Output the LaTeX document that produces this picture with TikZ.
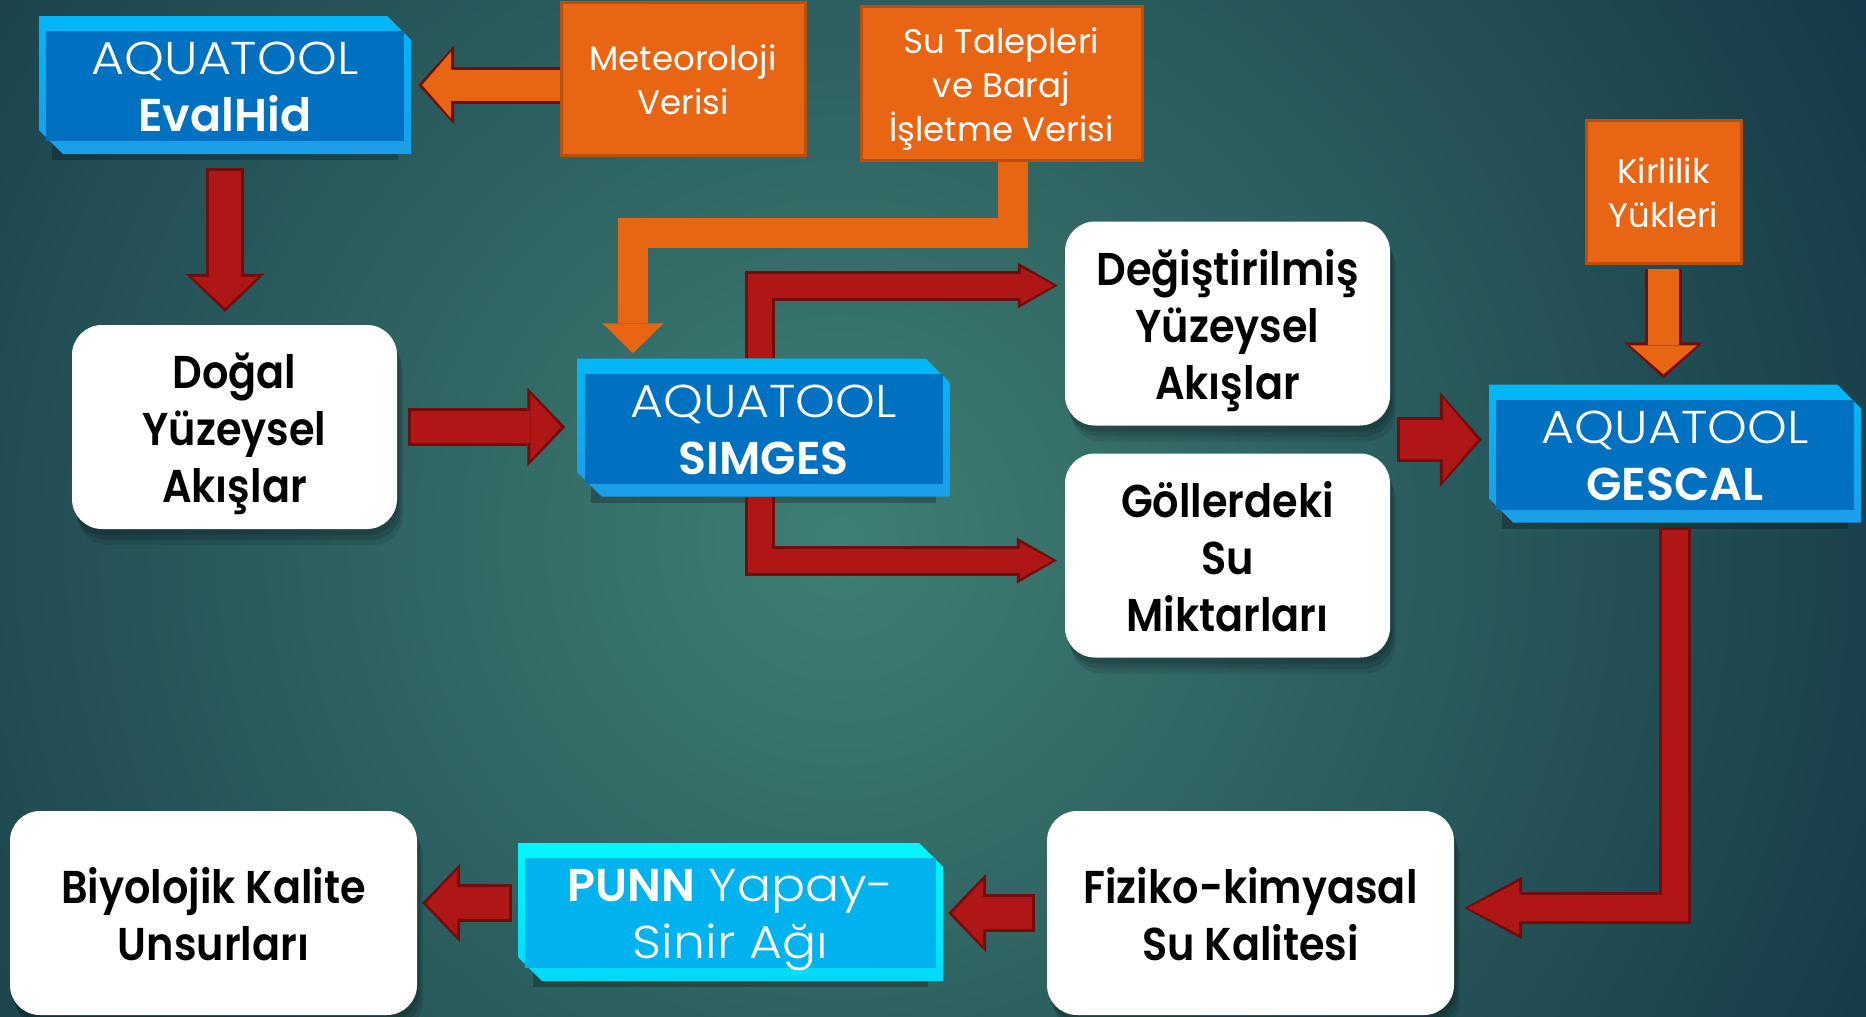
\documentclass[tikz,border=0pt]{standalone}
\usepackage{fontspec}
\setmainfont{Poppins}[BoldFont={Poppins SemiBold}]
\newfontfamily\thinfont{Poppins Light}[FakeStretch=1.1]
\newfontfamily\cardfont{Poppins SemiBold}[FakeStretch=0.9]
\usetikzlibrary{arrows.meta, calc, shadows}

\definecolor{bgin}{HTML}{3F7F74}
\definecolor{bgout}{HTML}{163A47}
\definecolor{flowred}{HTML}{AF1717}
\definecolor{flowedge}{HTML}{730C0C}
\definecolor{feedorange}{HTML}{E86514}
\definecolor{feededge}{HTML}{B9500F}
\definecolor{toolface}{HTML}{0070C0}
\definecolor{beveltop}{HTML}{00B8F8}
\definecolor{bevelbot}{HTML}{1C9EE8}
\definecolor{punnface}{HTML}{00B2EE}
\definecolor{punntop}{HTML}{00F8FF}
\definecolor{punnbot}{HTML}{00DAFA}

\begin{document}
\begin{tikzpicture}[
    x=1pt, y=-1pt,
    tool/.style n args={3}{minimum width=372pt, minimum height=138pt, inner sep=0pt,
        align=center, text=white, font=\fontsize{46}{57}\selectfont\thinfont,
        text height=93pt, text depth=0pt,
        drop shadow={shadow xshift=0pt, shadow yshift=-12pt, shadow scale=0.93, opacity=0.25, fill=black},
        path picture={
            \shade[top color=#1, bottom color=#2]
                (path picture bounding box.north west)
                -- ([xshift=-24pt]path picture bounding box.north east)
                -- ([yshift=-24pt]path picture bounding box.north east)
                -- (path picture bounding box.south east)
                -- ([xshift=24pt]path picture bounding box.south west)
                -- ([yshift=24pt]path picture bounding box.south west) -- cycle;
            \fill[#3] ([xshift=7pt,yshift=-15pt]path picture bounding box.north west)
                rectangle ([xshift=-7pt,yshift=13pt]path picture bounding box.south east);
        }},
    card/.style={fill=white, rounded corners=30pt, minimum width=325pt, minimum height=204pt,
        inner sep=0pt, align=center, font=\fontsize{46}{57}\selectfont\cardfont,
        text height=94pt, text depth=0pt,
        drop shadow={shadow xshift=2pt, shadow yshift=-6pt, opacity=0.12, fill=black},
        drop shadow={shadow xshift=4pt, shadow yshift=-11pt, opacity=0.12, fill=black},
        drop shadow={shadow xshift=6pt, shadow yshift=-16pt, opacity=0.1, fill=black}},
    threeline/.style={text height=151pt},
    datum/.style={fill=feedorange, draw=feededge, line width=3pt, inner sep=0pt, align=center,
        text=white, font=\fontsize{34}{44}\selectfont, text height=71pt, text depth=0pt},
    redflow/.style={draw=flowred, line width=32pt, shorten <=3pt, shorten >=4pt,
        -{Triangle[length=31pt, width=66pt, line width=0pt]},
        preaction={draw=flowedge, line width=38pt, shorten <=0pt, shorten >=0pt,
            -{Triangle[length=38pt, width=79pt, line width=0pt]}}},
    sideflow/.style={draw=flowred, line width=24pt, shorten >=4pt,
        -{Triangle[length=33pt, width=36pt, line width=0pt]},
        preaction={draw=flowedge, line width=30pt, shorten >=0pt,
            -{Triangle[length=40pt, width=46pt, line width=0pt]}}},
    wideflow/.style={draw=flowred, line width=39pt, shorten <=3pt, shorten >=4pt,
        -{Triangle[length=35pt, width=83pt, line width=0pt]},
        preaction={draw=flowedge, line width=45pt, shorten <=0pt, shorten >=0pt,
            -{Triangle[length=42pt, width=95pt, line width=0pt]}}},
    bentflow/.style={draw=flowred, line width=26pt, shorten <=3pt, shorten >=4pt,
        -{Triangle[length=51pt, width=53pt, line width=0pt]},
        preaction={draw=flowedge, line width=32pt, shorten <=0pt, shorten >=0pt,
            -{Triangle[length=58pt, width=63pt, line width=0pt]}}},
    inflow/.style={draw=feedorange, line width=31pt, shorten >=4pt,
        -{Triangle[length=29pt, width=67pt, line width=0pt]},
        preaction={draw=flowedge, line width=37pt, shorten >=0pt,
            -{Triangle[length=36pt, width=79pt, line width=0pt]}}},
    feedline/.style={draw=feedorange, line width=30pt,
        -{Triangle[length=30pt, width=61pt, line width=0pt]}}
]
\useasboundingbox (0,0) rectangle (1866,1017);
\fill[bgout] (0,0) rectangle (1866,1017);
\shade[inner color=bgin, outer color=bgout] (840,540) circle (1150);

% models
\node[tool={beveltop}{bevelbot}{toolface}] (evalhid) at (225,85) {AQUATOOL\\\textbf{\rmfamily EvalHid}};
\node[tool={beveltop}{bevelbot}{toolface}] (simges) at (763.5,427.5) {AQUATOOL\\\textbf{\rmfamily SIMGES}};
\node[tool={beveltop}{bevelbot}{toolface}] (gescal) at (1675,453.5) {AQUATOOL\\\textbf{\rmfamily GESCAL}};
\node[tool={punntop}{punnbot}{punnface}, minimum width=425pt] (punn) at (730.5,912) {\textbf{\rmfamily PUNN} Yapay-\\Sinir Ağı};

% input data
\node[datum, minimum width=244pt, minimum height=153pt] (meteo) at (683,78.5) {Meteoroloji\\Verisi};
\node[datum, minimum width=281pt, minimum height=154pt, text height=116pt] (talep) at (1001.5,83) {Su Talepleri\\ve Baraj\\İşletme Verisi};
\node[datum, minimum width=155pt, minimum height=143pt] (kirlilik) at (1663.5,191.5) {Kirlilik\\Yükleri};

% results
\node[card, threeline] (dogal) at (234.5,427) {Doğal\\Yüzeysel\\Akışlar};
\node[card, threeline] (degis) at (1227.5,323.5) {Değiştirilmiş\\Yüzeysel\\Akışlar};
\node[card, threeline] (goller) at (1227.5,555.5) {Göllerdeki\\Su\\Miktarları};
\node[card, minimum width=407pt] (biyo) at (213.5,913) {Biyolojik Kalite\\Unsurları};
\node[card, minimum width=407pt] (fiziko) at (1250.5,913) {Fiziko-kimyasal\\Su Kalitesi};

\coordinate (junction) at ($(degis.east)!0.5!(goller.east)$);

% flows
\draw[inflow] (meteo.west |- evalhid.east) -- ([xshift=7pt]evalhid.east);
\draw[redflow] ([yshift=-14pt]evalhid.south) -- ([yshift=13pt]dogal.north -| evalhid.south);
\draw[redflow] ([xshift=11pt]dogal.east) -- ([xshift=-12pt]simges.west |- dogal.east);
\draw[feedline] ([xshift=11pt]talep.south) -- ++(0,71) -| ([xshift=-130.5pt,yshift=5pt]simges.north);
\draw[sideflow] ([xshift=-4pt]simges.north) |- ([xshift=-7pt,yshift=38pt]degis.west);
\draw[sideflow] ([xshift=-4pt]simges.south) |- ([xshift=-8pt,yshift=-5pt]goller.west);
\draw[wideflow] ([xshift=7pt]junction) -- ([xshift=-7pt]gescal.west |- junction);
\draw[inflow] ([yshift=-4pt]kirlilik.south) -- ([yshift=6pt]gescal.north -| kirlilik.south);
\draw[bentflow] ([yshift=-4pt]gescal.south) |- ([xshift=10pt,yshift=5pt]fiziko.east);
\draw[redflow] ([xshift=-12pt]fiziko.west) -- ([xshift=5pt]punn.east |- fiziko.west);
\draw[redflow] ([xshift=-6pt,yshift=9pt]punn.west) -- ([xshift=5pt,yshift=10pt]biyo.east);
\end{tikzpicture}
\end{document}
